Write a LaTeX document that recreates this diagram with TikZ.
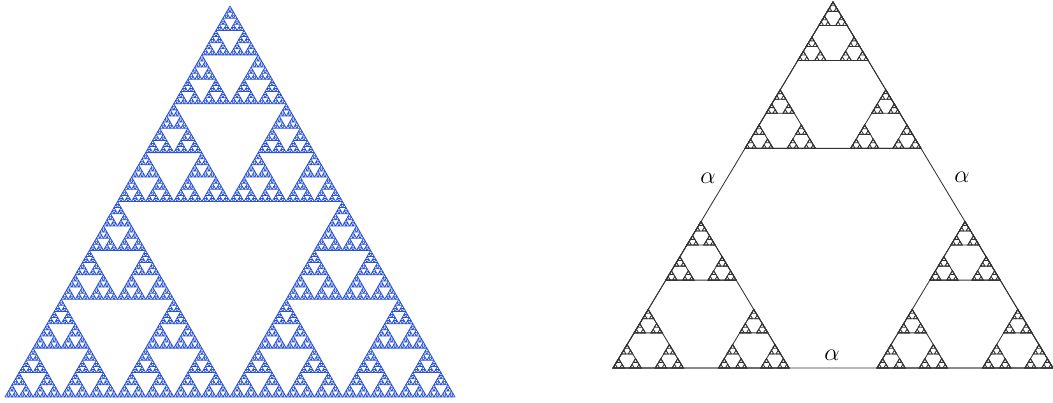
\documentclass[tikz,border=0pt]{standalone}
\usepackage{amsmath,amssymb}
\usepackage{xcolor}
\usepackage{tikz}
\definecolor{gasketblue}{RGB}{40,82,210}

% plain Sierpinski triangle, only the smallest triangles drawn
\newcommand\sierpinski[1]{%
  \ifnum#1=0
    \draw[leaf] (0,0) -- (1,0) -- (0.5,1) -- cycle;
  \else
    \begin{scope}[scale=0.5]\sierpinski{\numexpr#1-1\relax}\end{scope}
    \begin{scope}[shift={(0.5,0)},scale=0.5]\sierpinski{\numexpr#1-1\relax}\end{scope}
    \begin{scope}[shift={(0.25,0.5)},scale=0.5]\sierpinski{\numexpr#1-1\relax}\end{scope}
  \fi}

% gasket with corner triangles of ratio 0.4, every outline drawn
\newcommand\hexgasket[1]{%
  \draw[outline] (0,0) -- (1,0) -- (0.5,1) -- cycle;
  \ifnum#1>0
    \begin{scope}[scale=0.4]\hexgasket{\numexpr#1-1\relax}\end{scope}
    \begin{scope}[shift={(0.6,0)},scale=0.4]\hexgasket{\numexpr#1-1\relax}\end{scope}
    \begin{scope}[shift={(0.3,0.6)},scale=0.4]\hexgasket{\numexpr#1-1\relax}\end{scope}
  \fi}

\begin{document}
\begin{tikzpicture}[
  x=0.025cm, y=0.025cm,
  leaf/.style={draw=gasketblue, line width=0.55pt, line join=round},
  outline/.style={draw=black!80, line width=0.6pt},
  side label/.style={inner sep=0pt, font=\fontsize{17}{19}\selectfont}
]
\path[use as bounding box] (0,0) rectangle (1053,402);

% left picture
\begin{scope}[shift={(5,5)}, xscale=450, yscale=391]
  \sierpinski{7}
\end{scope}

% right picture
\begin{scope}[shift={(613,34)}, xscale=440, yscale=366]
  \hexgasket{5}
\end{scope}

\node[side label] (alphaL) at (708,224) {$\alpha$};
\node[side label] (alphaR) at (962,225) {$\alpha$};
\node[side label] (alphaB) at (832,47) {$\alpha$};
\end{tikzpicture}
\end{document}
